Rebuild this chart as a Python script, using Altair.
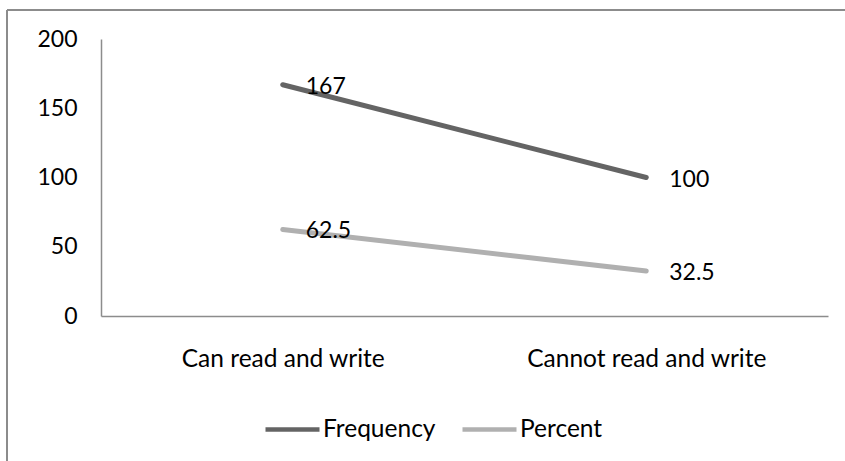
import altair as alt
import pandas as pd

# Literacy status: counts and shares
categories = ["Can read and write", "Cannot read and write"]
frequency = [167, 100]
percent = [62.5, 32.5]
series_names = ["Frequency", "Percent"]
series_colors = ["#646464", "#b0b0b0"]

rows = []
for name, values in zip(series_names, [frequency, percent]):
    for cat, v in zip(categories, values):
        rows.append({"status": cat, "series": name, "value": v,
                     "label": f"{v:g}"})
df = pd.DataFrame(rows)

FONT = "Lato"
FS_NUM = 23
FS_TXT = 24.5

x_enc = alt.X("status:N", sort=categories, title=None,
              scale=alt.Scale(type="point", padding=0.5),
              axis=alt.Axis(labelAngle=0, ticks=False, labelPadding=31,
                            labelLimit=0,
                            domainColor="#8c8c8c", domainWidth=1.5,
                            labelFont=FONT, labelFontSize=FS_TXT,
                            labelColor="#000000", grid=False))
y_enc = alt.Y("value:Q", title=None,
              scale=alt.Scale(domain=[0, 200]),
              axis=alt.Axis(values=[0, 50, 100, 150, 200], ticks=False,
                            labelPadding=24, domainColor="#8c8c8c",
                            domainWidth=1.5, grid=False,
                            labelFont=FONT, labelFontSize=FS_NUM,
                            labelColor="#000000"))
color_enc = alt.Color("series:N", sort=series_names,
                      scale=alt.Scale(domain=series_names, range=series_colors),
                      legend=alt.Legend(title=None, orient="none",
                                        direction="horizontal",
                                        legendX=162, legendY=361,
                                        symbolType="stroke",
                                        symbolSize=2916,
                                        symbolStrokeWidth=4.5,
                                        labelFont=FONT, labelFontSize=FS_TXT,
                                        labelColor="#000000",
                                        labelOffset=1, columnPadding=17,
                                        padding=0))

lines = alt.Chart(df).mark_line(strokeWidth=5, strokeCap="round").encode(
    x=x_enc, y=y_enc, color=color_enc, detail="series:N")

labels = alt.Chart(df).mark_text(
    align="left", baseline="middle", dx=23, dy=2,
    font=FONT, fontSize=FS_NUM, color="#000000").encode(
    x=alt.X("status:N", sort=categories),
    y="value:Q", text="label:N")

# outer frame around the figure
frame_data = alt.Data(values=[{"f": 1}])
frame_left = alt.Chart(frame_data).mark_rule(
    color="#8c8c8c", strokeWidth=2, clip=False).encode(
    x=alt.value(-94), y=alt.value(-29), y2=alt.value(460))
frame_top = alt.Chart(frame_data).mark_rule(
    color="#8c8c8c", strokeWidth=2, clip=False).encode(
    y=alt.value(-29), x=alt.value(-94), x2=alt.value(800))

chart = alt.layer(lines, labels, frame_left, frame_top).properties(
    width=727, height=277,
    padding={"left": 101, "top": 39, "right": 17, "bottom": 145},
    autosize=alt.AutoSizeParams(type="none"),
    background="#ffffff",
).configure_view(stroke=None)

chart.save("out.html", embed_options={"renderer": "svg", "actions": False})
